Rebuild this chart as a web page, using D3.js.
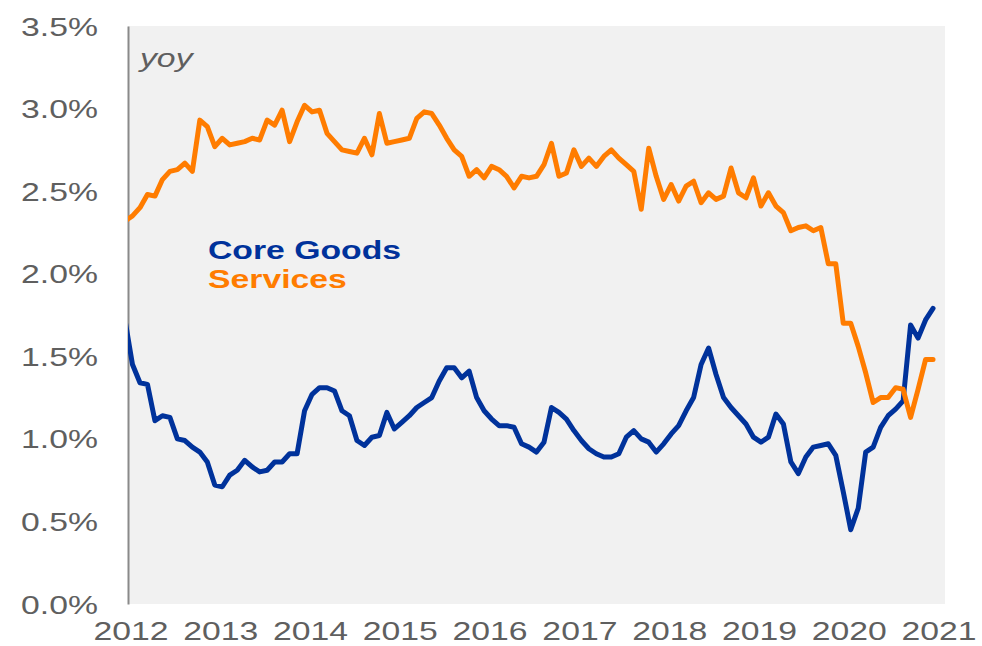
<!DOCTYPE html>
<html>
<head>
<meta charset="utf-8">
<script src="https://cdn.jsdelivr.net/npm/d3@7"></script>
<style>
  body { margin: 0; background: #ffffff; }
  svg { display: block; }
</style>
</head>
<body>
<svg id="chart" width="982" height="646"></svg>
<script>
// Monthly year-over-year inflation, %, first observation Dec 2011 (month index -1)
const firstMonthIndex = -1;

const coreGoods = [
  1.72,
  1.45, 1.34, 1.33, 1.11, 1.14, 1.13, 1.00, 0.99, 0.95, 0.92, 0.86, 0.72,
  0.71, 0.78, 0.81, 0.87, 0.83, 0.80, 0.81, 0.86, 0.86, 0.91, 0.91, 1.17,
  1.27, 1.31, 1.31, 1.29, 1.17, 1.14, 0.99, 0.96, 1.01, 1.02, 1.16, 1.06,
  1.10, 1.14, 1.19, 1.22, 1.25, 1.35, 1.43, 1.43, 1.37, 1.41, 1.25, 1.17,
  1.12, 1.08, 1.08, 1.07, 0.97, 0.95, 0.92, 0.98, 1.19, 1.16, 1.12, 1.05,
  0.99, 0.94, 0.91, 0.89, 0.89, 0.91, 1.01, 1.05, 1.00, 0.98, 0.92, 0.97,
  1.03, 1.08, 1.17, 1.25, 1.45, 1.55, 1.39, 1.25, 1.19, 1.14, 1.09, 1.01,
  0.98, 1.01, 1.15, 1.09, 0.86, 0.79, 0.89, 0.95, 0.96, 0.97, 0.90, 0.68,
  0.45, 0.58, 0.92, 0.95, 1.07, 1.14, 1.18, 1.23, 1.69, 1.61, 1.72, 1.79
];

const services = [
  2.32,
  2.35, 2.40, 2.48, 2.47, 2.57, 2.62, 2.63, 2.67, 2.62, 2.93, 2.89, 2.77,
  2.82, 2.78, 2.79, 2.80, 2.82, 2.81, 2.93, 2.90, 2.99, 2.80, 2.92, 3.02,
  2.98, 2.99, 2.85, 2.80, 2.75, 2.74, 2.73, 2.82, 2.72, 2.97, 2.79, 2.80,
  2.81, 2.82, 2.94, 2.98, 2.97, 2.90, 2.82, 2.75, 2.71, 2.59, 2.63, 2.58,
  2.65, 2.63, 2.59, 2.52, 2.59, 2.58, 2.59, 2.66, 2.79, 2.59, 2.61, 2.75,
  2.65, 2.70, 2.65, 2.71, 2.75, 2.70, 2.66, 2.62, 2.39, 2.76, 2.59, 2.45,
  2.54, 2.44, 2.53, 2.56, 2.43, 2.49, 2.45, 2.47, 2.64, 2.49, 2.46, 2.58,
  2.41, 2.49, 2.41, 2.37, 2.26, 2.28, 2.29, 2.26, 2.28, 2.06, 2.06, 1.70,
  1.70, 1.56, 1.40, 1.22, 1.25, 1.25, 1.31, 1.30, 1.13, 1.30, 1.48, 1.48
];

const seriesNames = ["Core Goods", "Services"];
const seriesColors = ["#00329b", "#ff7c00"];
const yTickValues = [0, 0.5, 1.0, 1.5, 2.0, 2.5, 3.0, 3.5];
const yearLabels = ["2012", "2013", "2014", "2015", "2016", "2017", "2018", "2019", "2020", "2021"];
const unitLabel = "yoy";

// Layout
const plot = { left: 128, right: 945, top: 26, bottom: 604 };
const SX = 1.35;              // horizontal text stretch
const labelColor = "#5f5f5f";
const fontFamily = "'Liberation Sans', Arial, sans-serif";

const svg = d3.select("#chart");

// month index 0 = Jan 2012
const x = d3.scaleLinear().domain([-0.6, 108.6]).range([plot.left, plot.right]);
const y = d3.scaleLinear().domain([0, 3.5]).range([plot.bottom, plot.top]);

// Plot background
svg.append("rect")
  .attr("x", plot.left).attr("y", plot.top)
  .attr("width", plot.right - plot.left).attr("height", plot.bottom - plot.top)
  .attr("fill", "#f1f1f1");

svg.append("clipPath").attr("id", "plotClip")
  .append("rect")
  .attr("x", plot.left).attr("y", plot.top - 5)
  .attr("width", plot.right - plot.left).attr("height", plot.bottom - plot.top + 10);

// Y axis
const yAxis = svg.append("g")
  .attr("transform", `translate(${plot.left},0)`)
  .call(d3.axisLeft(y).tickValues(yTickValues).tickSize(0).tickSizeOuter(0)
    .tickFormat(d => d3.format(".1f")(d) + "%"));
yAxis.select(".domain").attr("stroke", "#8a8a8a").attr("stroke-width", 2);
yAxis.selectAll(".tick text")
  .attr("x", -30 / SX)
  .attr("dy", "0.36em")
  .attr("transform", `scale(${SX},1)`)
  .attr("fill", labelColor)
  .style("font-family", fontFamily)
  .style("font-size", "25px");

// X axis (year labels)
const yearTicks = yearLabels.map((d, i) => i * 12);
const xAxis = svg.append("g")
  .attr("transform", `translate(0,${plot.bottom})`)
  .call(d3.axisBottom(x).tickValues(yearTicks).tickSize(0)
    .tickFormat((d, i) => yearLabels[i]));
xAxis.select(".domain").remove();
xAxis.selectAll(".tick text")
  .attr("x", -2 / SX)
  .attr("y", 36)
  .attr("dy", 0)
  .attr("transform", `scale(${SX},1)`)
  .attr("fill", labelColor)
  .style("font-family", fontFamily)
  .style("font-size", "25px");

// Lines
const line = d3.line()
  .x((d, i) => x(firstMonthIndex + i))
  .y(d => y(d));

const linesG = svg.append("g").attr("clip-path", "url(#plotClip)");
[coreGoods, services].forEach((vals, s) => {
  linesG.append("path")
    .datum(vals)
    .attr("d", line)
    .attr("fill", "none")
    .attr("stroke", seriesColors[s])
    .attr("stroke-width", 5)
    .attr("stroke-linejoin", "round")
    .attr("stroke-linecap", "round");
});

// Unit label
svg.append("text")
  .attr("transform", `translate(140,67) scale(${SX},1)`)
  .attr("fill", labelColor)
  .style("font-family", fontFamily)
  .style("font-style", "italic")
  .style("font-size", "25px")
  .text(unitLabel);

// Legend
const legendBaselines = [259, 288];
seriesNames.forEach((name, i) => {
  svg.append("text")
    .attr("transform", `translate(208,${legendBaselines[i]}) scale(${SX},1)`)
    .attr("fill", seriesColors[i])
    .style("font-family", fontFamily)
    .style("font-weight", "bold")
    .style("font-size", "25px")
    .text(name);
});
</script>
</body>
</html>
